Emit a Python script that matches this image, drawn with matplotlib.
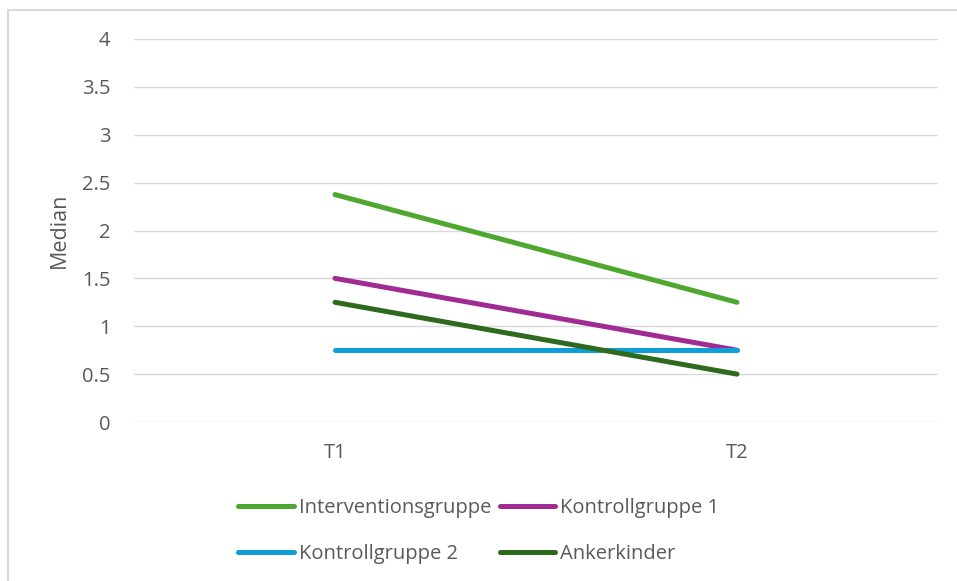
import matplotlib.pyplot as plt
from matplotlib.lines import Line2D

plt.rcParams['font.family'] = ['Open Sans', 'DejaVu Sans']

zeitpunkte = ['T1', 'T2']
interventionsgruppe = [2.375, 1.25]
kontrollgruppe1 = [1.5, 0.75]
kontrollgruppe2 = [0.75, 0.75]
ankerkinder = [1.25, 0.5]

serien = [
    ('Interventionsgruppe', interventionsgruppe, '#4EA72E'),
    ('Kontrollgruppe 1', kontrollgruppe1, '#A02B93'),
    ('Kontrollgruppe 2', kontrollgruppe2, '#0F9ED5'),
    ('Ankerkinder', ankerkinder, '#2E6A1E'),
]

fig = plt.figure(figsize=(9.57, 5.81), dpi=100)
ax = fig.add_axes([134/957, 1-422/581, (938-134)/957, (422-39)/581])

x = range(len(zeitpunkte))
linien = []
for name, werte, farbe in serien:
    l, = ax.plot(x, werte, color=farbe, lw=3.6, solid_capstyle='round', label=name)
    linien.append(l)

ax.set_xlim(-0.5, len(zeitpunkte) - 0.5)
ax.set_ylim(0, 4)
ax.set_yticks([0, 0.5, 1, 1.5, 2, 2.5, 3, 3.5, 4])
ax.set_yticklabels(['0', '0.5', '1', '1.5', '2', '2.5', '3', '3.5', '4'])
ax.set_xticks(list(x))
ax.set_xticklabels(zeitpunkte)
ax.grid(axis='y', color='#D9D9D9', lw=1)
ax.set_axisbelow(True)
for s in ax.spines.values():
    s.set_visible(False)
ax.tick_params(length=0, labelsize=14.5, colors='#595959')
ax.tick_params(axis='y', pad=17)
ax.tick_params(axis='x', pad=15)
ax.set_ylabel('Median', fontsize=15.5, color='#595959', labelpad=9)

# Reihenfolge so, dass die Legende zeilenweise gelesen wird
reihenfolge = [0, 2, 1, 3]
fig.legend([linien[i] for i in reihenfolge], [serien[i][0] for i in reihenfolge],
           loc='upper left', bbox_to_anchor=(220/957, 1-480/581), ncol=2,
           frameon=False, fontsize=14.5, labelcolor='#595959',
           handlelength=2.75, handletextpad=0.25, columnspacing=0.45,
           labelspacing=1.3)

# Rahmen (nur links und oben sichtbar)
fig.add_artist(Line2D([8/957, 8/957], [0, 1-10/581], color='#D9D9D9', lw=1.5))
fig.add_artist(Line2D([8/957, 1], [1-10/581, 1-10/581], color='#D9D9D9', lw=1.5))

fig.savefig('out.png', dpi=100)
